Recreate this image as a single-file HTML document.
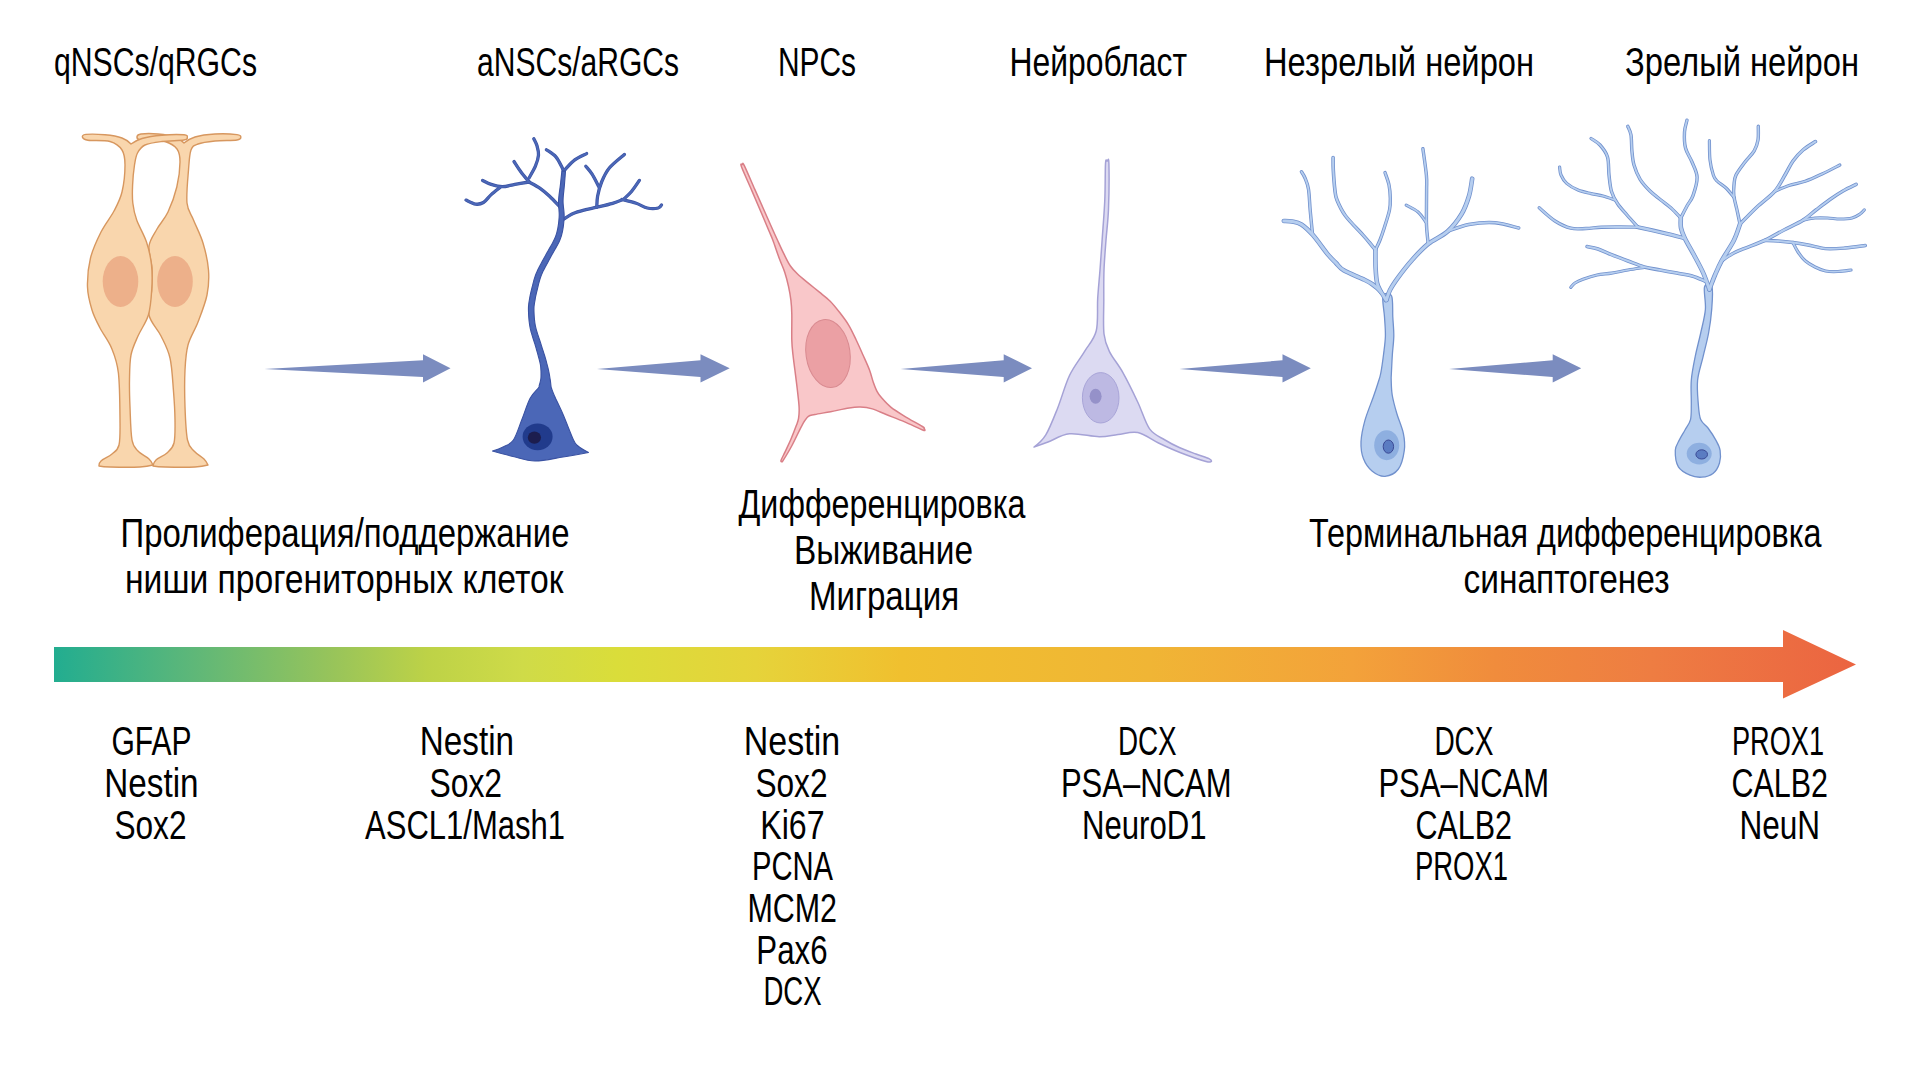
<!DOCTYPE html>
<html><head><meta charset="utf-8"><title>Neurogenesis</title><style>html,body{margin:0;padding:0;background:#fff;overflow:hidden}svg{display:block}</style></head><body>
<svg width="1907" height="1079" viewBox="0 0 1907 1079">
<defs><linearGradient id="g" gradientUnits="userSpaceOnUse" x1="54" y1="0" x2="1856" y2="0">
<stop offset="0" stop-color="#22ad90"/>
<stop offset="0.076" stop-color="#5db779"/>
<stop offset="0.155" stop-color="#98c45a"/>
<stop offset="0.207" stop-color="#bdd247"/>
<stop offset="0.26" stop-color="#cfdb48"/>
<stop offset="0.312" stop-color="#dadd3a"/>
<stop offset="0.39" stop-color="#e6d33a"/>
<stop offset="0.47" stop-color="#f0c02f"/>
<stop offset="0.608" stop-color="#f0b535"/>
<stop offset="0.72" stop-color="#f3a23a"/>
<stop offset="0.80" stop-color="#f08c3c"/>
<stop offset="0.886" stop-color="#ee7d42"/>
<stop offset="1" stop-color="#eb6441"/>
</linearGradient></defs>
<path fill="url(#g)" d="M54,647 L1783,647 L1783,630 L1856,664.5 L1783,698.5 L1783,682 L54,682 Z"/>
<path fill="#7b8cbf" d="M264.4,369 L423.0,360.3 L423.0,354.3 L450.5,368.2 L423.0,382.4 L423.0,377 Z"/>
<path fill="#7b8cbf" d="M597.0,369 L700.5,360.3 L700.5,354.3 L729.7,368.2 L700.5,382.4 L700.5,377 Z"/>
<path fill="#7b8cbf" d="M900.6,369 L1003.7,360.3 L1003.7,354.3 L1032.0,368.2 L1003.7,382.4 L1003.7,377 Z"/>
<path fill="#7b8cbf" d="M1179.4,369 L1282.5,360.3 L1282.5,354.3 L1310.8,368.2 L1282.5,382.4 L1282.5,377 Z"/>
<path fill="#7b8cbf" d="M1449.0,369 L1552.7,360.3 L1552.7,354.3 L1581.2,368.2 L1552.7,382.4 L1552.7,377 Z"/>
<path fill="#f9d6ad" stroke="#d7975f" stroke-width="1.4" stroke-linejoin="round" d="M137.00,136.60 C137.17,135.60 137.50,134.43 141.00,134.00 C144.50,133.57 152.33,133.50 158.00,134.00 C163.67,134.50 170.67,135.50 175.00,137.00 C179.33,138.50 184.00,143.00 184.00,143.00 C184.00,143.00 189.83,138.50 195.00,137.00 C200.17,135.50 208.00,134.40 215.00,134.00 C222.00,133.60 232.70,134.07 237.00,134.60 C241.30,135.13 240.80,136.30 240.80,137.20 C240.80,138.10 241.30,139.37 237.00,140.00 C232.70,140.63 221.50,140.33 215.00,141.00 C208.50,141.67 202.00,142.50 198.00,144.00 C194.00,145.50 192.58,145.67 191.00,150.00 C189.42,154.33 189.17,161.17 188.50,170.00 C187.83,178.83 186.17,194.67 187.00,203.00 C187.83,211.33 190.83,213.33 193.50,220.00 C196.17,226.67 200.50,234.67 203.00,243.00 C205.50,251.33 207.83,261.33 208.50,270.00 C209.17,278.67 208.75,286.33 207.00,295.00 C205.25,303.67 201.17,313.67 198.00,322.00 C194.83,330.33 190.17,337.00 188.00,345.00 C185.83,353.00 185.50,359.67 185.00,370.00 C184.50,380.33 184.58,395.33 185.00,407.00 C185.42,418.67 186.00,432.67 187.50,440.00 C189.00,447.33 191.25,447.83 194.00,451.00 C196.75,454.17 201.67,456.67 204.00,459.00 C206.33,461.33 208.00,465.00 208.00,465.00 C208.00,465.00 202.17,466.67 195.00,467.00 C187.83,467.33 172.00,467.17 165.00,467.00 C158.00,466.83 153.00,466.00 153.00,466.00 C153.00,466.00 153.67,462.17 156.00,460.00 C158.33,457.83 164.00,455.83 167.00,453.00 C170.00,450.17 172.67,448.50 174.00,443.00 C175.33,437.50 175.10,428.83 175.00,420.00 C174.90,411.17 174.23,400.33 173.40,390.00 C172.57,379.67 172.07,367.00 170.00,358.00 C167.93,349.00 164.50,343.17 161.00,336.00 C157.50,328.83 150.55,322.67 149.00,315.00 C147.45,307.33 151.20,297.83 151.70,290.00 C152.20,282.17 152.45,275.33 152.00,268.00 C151.55,260.67 148.17,252.50 149.00,246.00 C149.83,239.50 153.83,234.67 157.00,229.00 C160.17,223.33 164.70,219.00 168.00,212.00 C171.30,205.00 174.80,195.33 176.80,187.00 C178.80,178.67 179.97,168.33 180.00,162.00 C180.03,155.67 179.50,152.42 177.00,149.00 C174.50,145.58 169.50,142.97 165.00,141.50 C160.50,140.03 154.17,140.45 150.00,140.20 C145.83,139.95 142.17,140.60 140.00,140.00 C137.83,139.40 136.83,137.60 137.00,136.60Z"/>
<ellipse cx="175.0" cy="281.5" rx="17.8" ry="25.5" fill="#edb08a"/>
<path fill="#f9d6ad" stroke="#d7975f" stroke-width="1.4" stroke-linejoin="round" d="M82.50,137.20 C82.17,136.23 82.25,134.80 86.00,134.40 C89.75,134.00 99.00,134.20 105.00,134.80 C111.00,135.40 117.67,136.47 122.00,138.00 C126.33,139.53 131.00,144.00 131.00,144.00 C131.00,144.00 136.83,139.97 142.00,138.50 C147.17,137.03 155.00,135.82 162.00,135.20 C169.00,134.58 179.78,134.43 184.00,134.80 C188.22,135.17 187.30,136.53 187.30,137.40 C187.30,138.27 188.22,139.32 184.00,140.00 C179.78,140.68 168.50,140.67 162.00,141.50 C155.50,142.33 149.08,143.08 145.00,145.00 C140.92,146.92 139.25,149.67 137.50,153.00 C135.75,156.33 135.32,159.67 134.50,165.00 C133.68,170.33 132.88,178.67 132.60,185.00 C132.32,191.33 132.12,197.17 132.80,203.00 C133.48,208.83 134.42,213.50 136.70,220.00 C138.98,226.50 144.03,234.50 146.50,242.00 C148.97,249.50 150.63,257.00 151.50,265.00 C152.37,273.00 152.22,281.67 151.70,290.00 C151.18,298.33 150.68,307.33 148.40,315.00 C146.12,322.67 140.90,329.33 138.00,336.00 C135.10,342.67 132.42,347.67 131.00,355.00 C129.58,362.33 129.67,371.33 129.50,380.00 C129.33,388.67 129.58,397.00 130.00,407.00 C130.42,417.00 130.67,432.67 132.00,440.00 C133.33,447.33 135.17,447.83 138.00,451.00 C140.83,454.17 146.50,456.67 149.00,459.00 C151.50,461.33 153.00,465.00 153.00,465.00 C153.00,465.00 147.17,466.67 140.00,467.00 C132.83,467.33 116.83,467.17 110.00,467.00 C103.17,466.83 99.00,466.00 99.00,466.00 C99.00,466.00 98.83,463.00 101.00,461.00 C103.17,459.00 109.00,456.67 112.00,454.00 C115.00,451.33 117.67,450.67 119.00,445.00 C120.33,439.33 120.10,432.00 120.00,420.00 C119.90,408.00 119.78,384.93 118.40,373.00 C117.02,361.07 114.77,355.90 111.70,348.40 C108.63,340.90 103.28,334.40 100.00,328.00 C96.72,321.60 94.08,316.83 92.00,310.00 C89.92,303.17 87.75,295.67 87.50,287.00 C87.25,278.33 88.25,267.17 90.50,258.00 C92.75,248.83 97.08,239.83 101.00,232.00 C104.92,224.17 110.50,217.67 114.00,211.00 C117.50,204.33 120.17,199.67 122.00,192.00 C123.83,184.33 125.00,172.00 125.00,165.00 C125.00,158.00 124.50,153.92 122.00,150.00 C119.50,146.08 115.67,143.13 110.00,141.50 C104.33,139.87 92.58,140.92 88.00,140.20 C83.42,139.48 82.83,138.17 82.50,137.20Z"/>
<ellipse cx="120.5" cy="281.5" rx="17.8" ry="25.5" fill="#edb08a"/>
<path fill="none" stroke="#3a52a2" stroke-width="3.3" stroke-linecap="round" stroke-linejoin="round" d="M563.70,172.00 C563.45,171.30 563.50,170.33 562.20,167.80 C560.90,165.27 558.53,159.82 555.90,156.80 C553.27,153.78 547.98,150.88 546.40,149.70"/>
<path fill="none" stroke="#3a52a2" stroke-width="3.3" stroke-linecap="round" stroke-linejoin="round" d="M563.70,172.00 C563.97,171.57 563.45,171.42 565.30,169.40 C567.15,167.38 571.25,162.53 574.80,159.90 C578.35,157.27 584.63,154.65 586.60,153.60"/>
<path fill="none" stroke="#3a52a2" stroke-width="3.3" stroke-linecap="round" stroke-linejoin="round" d="M560.00,207.00 C558.27,205.20 552.92,199.32 549.60,196.20 C546.28,193.08 543.52,190.67 540.10,188.30 C536.68,185.93 530.93,183.05 529.10,182.00"/>
<path fill="none" stroke="#3a52a2" stroke-width="3.3" stroke-linecap="round" stroke-linejoin="round" d="M529.10,182.00 C526.73,182.40 519.37,183.62 514.90,184.40 C510.43,185.18 506.25,186.70 502.30,186.70 C498.35,186.70 494.48,185.45 491.20,184.40 C487.92,183.35 484.03,181.07 482.60,180.40"/>
<path fill="none" stroke="#3a52a2" stroke-width="3.3" stroke-linecap="round" stroke-linejoin="round" d="M500.00,187.50 C498.53,188.68 493.97,192.10 491.20,194.60 C488.43,197.10 486.02,200.92 483.40,202.50 C480.78,204.08 478.40,204.50 475.50,204.10 C472.60,203.70 467.58,200.77 466.00,200.10"/>
<path fill="none" stroke="#3a52a2" stroke-width="3.3" stroke-linecap="round" stroke-linejoin="round" d="M529.10,182.00 C527.75,180.33 523.52,175.42 521.00,172.00 C518.48,168.58 515.17,163.25 514.00,161.50"/>
<path fill="none" stroke="#3a52a2" stroke-width="3.3" stroke-linecap="round" stroke-linejoin="round" d="M529.00,178.00 C530.07,176.03 533.82,170.00 535.40,166.20 C536.98,162.40 538.23,158.60 538.50,155.20 C538.77,151.80 537.78,148.55 537.00,145.80 C536.22,143.05 534.33,139.88 533.80,138.70"/>
<path fill="none" stroke="#3a52a2" stroke-width="3.3" stroke-linecap="round" stroke-linejoin="round" d="M562.50,220.00 C564.28,218.92 569.32,215.23 573.20,213.50 C577.08,211.77 581.87,210.65 585.80,209.60 C589.73,208.55 592.33,208.25 596.80,207.20 C601.27,206.15 608.13,204.62 612.60,203.30 C617.07,201.98 621.77,199.97 623.60,199.30"/>
<path fill="none" stroke="#3a52a2" stroke-width="3.3" stroke-linecap="round" stroke-linejoin="round" d="M623.60,199.30 C624.92,198.00 628.87,194.65 631.50,191.50 C634.13,188.35 638.08,182.25 639.40,180.40"/>
<path fill="none" stroke="#3a52a2" stroke-width="3.3" stroke-linecap="round" stroke-linejoin="round" d="M622.00,199.50 C624.37,200.13 631.98,201.88 636.20,203.30 C640.42,204.72 643.62,207.22 647.30,208.00 C650.98,208.78 655.93,208.52 658.30,208.00 C660.67,207.48 660.97,205.42 661.50,204.90"/>
<path fill="none" stroke="#3a52a2" stroke-width="3.3" stroke-linecap="round" stroke-linejoin="round" d="M596.80,207.20 C596.93,205.37 596.80,200.40 597.60,196.20 C598.40,192.00 599.62,186.73 601.60,182.00 C603.58,177.27 605.70,172.40 609.50,167.80 C613.30,163.20 621.92,156.63 624.40,154.40"/>
<path fill="none" stroke="#3a52a2" stroke-width="3.3" stroke-linecap="round" stroke-linejoin="round" d="M599.00,187.00 C597.85,184.85 594.30,177.57 592.10,174.10 C589.90,170.63 586.85,167.52 585.80,166.20"/>
<path fill="none" stroke="#4b67b7" stroke-width="2.0" stroke-linecap="round" stroke-linejoin="round" d="M563.70,172.00 C563.45,171.30 563.50,170.33 562.20,167.80 C560.90,165.27 558.53,159.82 555.90,156.80 C553.27,153.78 547.98,150.88 546.40,149.70"/>
<path fill="none" stroke="#4b67b7" stroke-width="2.0" stroke-linecap="round" stroke-linejoin="round" d="M563.70,172.00 C563.97,171.57 563.45,171.42 565.30,169.40 C567.15,167.38 571.25,162.53 574.80,159.90 C578.35,157.27 584.63,154.65 586.60,153.60"/>
<path fill="none" stroke="#4b67b7" stroke-width="2.0" stroke-linecap="round" stroke-linejoin="round" d="M560.00,207.00 C558.27,205.20 552.92,199.32 549.60,196.20 C546.28,193.08 543.52,190.67 540.10,188.30 C536.68,185.93 530.93,183.05 529.10,182.00"/>
<path fill="none" stroke="#4b67b7" stroke-width="2.0" stroke-linecap="round" stroke-linejoin="round" d="M529.10,182.00 C526.73,182.40 519.37,183.62 514.90,184.40 C510.43,185.18 506.25,186.70 502.30,186.70 C498.35,186.70 494.48,185.45 491.20,184.40 C487.92,183.35 484.03,181.07 482.60,180.40"/>
<path fill="none" stroke="#4b67b7" stroke-width="2.0" stroke-linecap="round" stroke-linejoin="round" d="M500.00,187.50 C498.53,188.68 493.97,192.10 491.20,194.60 C488.43,197.10 486.02,200.92 483.40,202.50 C480.78,204.08 478.40,204.50 475.50,204.10 C472.60,203.70 467.58,200.77 466.00,200.10"/>
<path fill="none" stroke="#4b67b7" stroke-width="2.0" stroke-linecap="round" stroke-linejoin="round" d="M529.10,182.00 C527.75,180.33 523.52,175.42 521.00,172.00 C518.48,168.58 515.17,163.25 514.00,161.50"/>
<path fill="none" stroke="#4b67b7" stroke-width="2.0" stroke-linecap="round" stroke-linejoin="round" d="M529.00,178.00 C530.07,176.03 533.82,170.00 535.40,166.20 C536.98,162.40 538.23,158.60 538.50,155.20 C538.77,151.80 537.78,148.55 537.00,145.80 C536.22,143.05 534.33,139.88 533.80,138.70"/>
<path fill="none" stroke="#4b67b7" stroke-width="2.0" stroke-linecap="round" stroke-linejoin="round" d="M562.50,220.00 C564.28,218.92 569.32,215.23 573.20,213.50 C577.08,211.77 581.87,210.65 585.80,209.60 C589.73,208.55 592.33,208.25 596.80,207.20 C601.27,206.15 608.13,204.62 612.60,203.30 C617.07,201.98 621.77,199.97 623.60,199.30"/>
<path fill="none" stroke="#4b67b7" stroke-width="2.0" stroke-linecap="round" stroke-linejoin="round" d="M623.60,199.30 C624.92,198.00 628.87,194.65 631.50,191.50 C634.13,188.35 638.08,182.25 639.40,180.40"/>
<path fill="none" stroke="#4b67b7" stroke-width="2.0" stroke-linecap="round" stroke-linejoin="round" d="M622.00,199.50 C624.37,200.13 631.98,201.88 636.20,203.30 C640.42,204.72 643.62,207.22 647.30,208.00 C650.98,208.78 655.93,208.52 658.30,208.00 C660.67,207.48 660.97,205.42 661.50,204.90"/>
<path fill="none" stroke="#4b67b7" stroke-width="2.0" stroke-linecap="round" stroke-linejoin="round" d="M596.80,207.20 C596.93,205.37 596.80,200.40 597.60,196.20 C598.40,192.00 599.62,186.73 601.60,182.00 C603.58,177.27 605.70,172.40 609.50,167.80 C613.30,163.20 621.92,156.63 624.40,154.40"/>
<path fill="none" stroke="#4b67b7" stroke-width="2.0" stroke-linecap="round" stroke-linejoin="round" d="M599.00,187.00 C597.85,184.85 594.30,177.57 592.10,174.10 C589.90,170.63 586.85,167.52 585.80,166.20"/>
<path fill="#4b67b7" stroke="#3a52a2" stroke-width="1.1" stroke-linejoin="round" d="M561.91,170.83 C561.91,170.83 561.78,171.96 561.70,172.70 C561.61,173.45 561.52,174.37 561.42,175.32 C561.32,176.27 561.20,177.35 561.09,178.41 C560.98,179.46 560.86,180.60 560.75,181.66 C560.63,182.73 560.52,183.87 560.41,184.81 C560.30,185.75 560.21,186.45 560.10,187.30 C559.98,188.14 559.86,189.01 559.73,189.89 C559.61,190.76 559.48,191.66 559.36,192.56 C559.24,193.46 559.12,194.38 559.01,195.30 C558.91,196.22 558.80,197.16 558.73,198.10 C558.65,199.04 558.58,199.98 558.55,200.95 C558.52,201.91 558.53,202.90 558.55,203.87 C558.58,204.83 558.65,205.78 558.72,206.73 C558.79,207.67 558.88,208.61 558.95,209.54 C559.02,210.47 559.10,211.39 559.14,212.32 C559.19,213.24 559.23,214.15 559.22,215.07 C559.22,215.99 559.16,216.93 559.11,217.82 C559.05,218.71 558.97,219.52 558.88,220.39 C558.80,221.25 558.71,222.13 558.60,223.00 C558.49,223.88 558.38,224.76 558.24,225.64 C558.11,226.52 557.96,227.41 557.80,228.29 C557.63,229.17 557.44,230.06 557.23,230.93 C557.02,231.81 556.80,232.68 556.54,233.55 C556.29,234.41 555.99,235.32 555.70,236.12 C555.42,236.92 555.15,237.58 554.83,238.33 C554.51,239.08 554.15,239.83 553.77,240.60 C553.40,241.36 552.99,242.13 552.57,242.91 C552.15,243.68 551.71,244.47 551.27,245.25 C550.82,246.03 550.36,246.82 549.90,247.61 C549.44,248.40 548.97,249.20 548.51,249.99 C548.05,250.79 547.59,251.58 547.15,252.38 C546.71,253.18 546.27,254.00 545.85,254.77 C545.43,255.55 545.05,256.29 544.63,257.05 C544.22,257.81 543.80,258.57 543.38,259.34 C542.96,260.10 542.54,260.86 542.12,261.63 C541.70,262.39 541.27,263.15 540.86,263.92 C540.45,264.68 540.03,265.44 539.64,266.20 C539.24,266.96 538.85,267.72 538.47,268.47 C538.09,269.23 537.73,269.98 537.38,270.73 C537.04,271.48 536.75,272.11 536.40,272.98 C536.05,273.85 535.61,274.98 535.26,275.97 C534.91,276.96 534.60,277.96 534.30,278.93 C534.01,279.90 533.74,280.87 533.49,281.80 C533.24,282.74 533.01,283.66 532.79,284.53 C532.56,285.41 532.36,286.26 532.16,287.05 C531.96,287.85 531.81,288.43 531.59,289.30 C531.37,290.17 531.07,291.36 530.85,292.28 C530.63,293.19 530.45,293.99 530.28,294.80 C530.11,295.62 529.97,296.36 529.83,297.15 C529.69,297.95 529.56,298.78 529.43,299.57 C529.30,300.36 529.18,301.10 529.06,301.87 C528.94,302.64 528.81,303.37 528.72,304.20 C528.62,305.04 528.53,305.88 528.48,306.86 C528.44,307.83 528.44,309.12 528.45,310.06 C528.46,311.00 528.49,311.64 528.52,312.50 C528.55,313.36 528.59,314.28 528.64,315.23 C528.70,316.17 528.76,317.16 528.84,318.16 C528.92,319.16 529.02,320.19 529.13,321.23 C529.25,322.27 529.39,323.33 529.55,324.38 C529.71,325.44 529.91,326.56 530.10,327.55 C530.30,328.53 530.49,329.38 530.72,330.30 C530.95,331.23 531.20,332.16 531.47,333.10 C531.73,334.03 532.02,334.97 532.30,335.91 C532.59,336.84 532.89,337.78 533.19,338.71 C533.49,339.64 533.79,340.56 534.08,341.48 C534.37,342.39 534.66,343.30 534.94,344.19 C535.21,345.08 535.46,345.93 535.72,346.81 C535.97,347.70 536.21,348.61 536.46,349.51 C536.72,350.41 536.97,351.31 537.23,352.20 C537.48,353.10 537.73,353.99 537.98,354.87 C538.22,355.75 538.47,356.63 538.70,357.48 C538.93,358.34 539.16,359.19 539.36,360.01 C539.57,360.83 539.77,361.64 539.95,362.42 C540.12,363.20 540.29,363.80 540.42,364.69 C540.56,365.57 540.67,366.73 540.76,367.72 C540.85,368.70 540.90,369.66 540.95,370.58 C540.99,371.51 541.01,372.41 541.02,373.29 C541.03,374.17 541.01,375.02 541.00,375.85 C540.98,376.67 541.00,377.42 540.91,378.26 C540.82,379.11 540.63,380.03 540.45,380.91 C540.27,381.78 540.04,382.69 539.82,383.50 C539.61,384.32 539.36,385.09 539.14,385.80 C538.92,386.50 540.03,385.62 538.51,387.74 C536.98,389.86 532.80,393.12 530.00,398.50 C527.20,403.88 524.47,413.08 521.70,420.00 C518.93,426.92 516.52,435.50 513.40,440.00 C510.28,444.50 506.48,445.17 503.00,447.00 C499.52,448.83 492.50,451.00 492.50,451.00 C492.50,451.00 505.92,454.83 513.00,456.50 C520.08,458.17 526.67,460.92 535.00,461.00 C543.33,461.08 554.08,458.42 563.00,457.00 C571.92,455.58 588.50,452.50 588.50,452.50 C588.50,452.50 580.50,448.08 578.00,446.00 C575.50,443.92 575.93,445.13 573.50,440.00 C571.07,434.87 566.57,422.53 563.40,415.20 C560.23,407.87 556.48,400.49 554.50,396.00 C552.52,391.51 552.06,389.79 551.49,388.26 C550.93,386.73 551.22,387.47 551.10,386.80 C550.99,386.13 550.91,385.19 550.80,384.25 C550.69,383.30 550.60,382.21 550.44,381.12 C550.29,380.04 550.05,378.73 549.89,377.74 C549.73,376.75 549.62,376.07 549.47,375.19 C549.32,374.32 549.16,373.41 548.98,372.47 C548.79,371.53 548.60,370.57 548.38,369.58 C548.16,368.58 547.92,367.57 547.65,366.52 C547.39,365.48 547.03,364.26 546.78,363.31 C546.53,362.37 546.38,361.70 546.15,360.87 C545.93,360.04 545.69,359.20 545.44,358.35 C545.19,357.49 544.92,356.62 544.65,355.75 C544.38,354.88 544.10,354.00 543.82,353.12 C543.54,352.24 543.25,351.35 542.97,350.46 C542.68,349.58 542.39,348.69 542.11,347.81 C541.83,346.93 541.57,346.08 541.28,345.19 C541.00,344.29 540.72,343.37 540.43,342.45 C540.13,341.54 539.82,340.61 539.51,339.69 C539.20,338.77 538.88,337.85 538.58,336.94 C538.27,336.02 537.96,335.11 537.67,334.20 C537.38,333.30 537.09,332.41 536.83,331.53 C536.56,330.65 536.31,329.78 536.09,328.93 C535.87,328.09 535.68,327.35 535.50,326.45 C535.31,325.56 535.13,324.53 534.98,323.56 C534.84,322.58 534.71,321.59 534.60,320.62 C534.49,319.65 534.40,318.67 534.32,317.72 C534.24,316.77 534.19,315.82 534.13,314.92 C534.08,314.02 534.05,313.14 534.02,312.31 C533.99,311.48 533.95,310.80 533.95,309.94 C533.95,309.08 533.95,308.00 534.00,307.16 C534.04,306.32 534.13,305.65 534.22,304.92 C534.31,304.19 534.44,303.55 534.56,302.80 C534.68,302.05 534.84,301.21 534.97,300.43 C535.10,299.65 535.21,298.88 535.35,298.13 C535.48,297.38 535.61,296.71 535.77,295.95 C535.92,295.19 536.09,294.44 536.30,293.57 C536.51,292.69 536.80,291.57 537.01,290.70 C537.22,289.83 537.38,289.17 537.57,288.36 C537.77,287.55 537.96,286.70 538.16,285.84 C538.37,284.98 538.58,284.09 538.81,283.20 C539.04,282.30 539.28,281.39 539.55,280.48 C539.81,279.57 540.09,278.64 540.40,277.73 C540.71,276.82 541.09,275.82 541.40,275.02 C541.71,274.23 541.97,273.67 542.28,272.97 C542.60,272.28 542.94,271.57 543.29,270.86 C543.64,270.14 544.01,269.42 544.39,268.68 C544.77,267.95 545.16,267.21 545.57,266.46 C545.97,265.71 546.38,264.96 546.79,264.20 C547.21,263.44 547.63,262.67 548.05,261.90 C548.47,261.13 548.89,260.35 549.31,259.57 C549.73,258.79 550.14,257.99 550.55,257.23 C550.96,256.46 551.35,255.73 551.77,254.97 C552.20,254.20 552.65,253.43 553.10,252.65 C553.55,251.87 554.02,251.08 554.48,250.28 C554.94,249.49 555.41,248.68 555.87,247.88 C556.33,247.07 556.79,246.25 557.23,245.43 C557.68,244.61 558.11,243.78 558.52,242.95 C558.93,242.12 559.33,241.28 559.69,240.43 C560.06,239.59 560.38,238.79 560.70,237.88 C561.02,236.97 561.33,235.95 561.60,234.99 C561.87,234.03 562.10,233.06 562.32,232.09 C562.53,231.13 562.72,230.17 562.88,229.21 C563.05,228.26 563.19,227.31 563.32,226.36 C563.45,225.42 563.56,224.49 563.65,223.56 C563.75,222.64 563.83,221.73 563.90,220.83 C563.98,219.93 564.05,219.15 564.09,218.18 C564.13,217.21 564.16,216.04 564.14,215.01 C564.12,213.97 564.04,212.97 563.97,211.98 C563.89,210.99 563.78,210.03 563.68,209.08 C563.58,208.14 563.46,207.22 563.37,206.31 C563.28,205.40 563.19,204.51 563.13,203.64 C563.08,202.76 563.05,201.93 563.05,201.05 C563.05,200.18 563.09,199.29 563.13,198.40 C563.18,197.52 563.25,196.63 563.32,195.74 C563.40,194.85 563.49,193.95 563.58,193.07 C563.67,192.18 563.77,191.29 563.87,190.41 C563.96,189.53 564.06,188.65 564.15,187.78 C564.24,186.91 564.31,186.15 564.39,185.19 C564.47,184.23 564.56,183.10 564.65,182.03 C564.74,180.96 564.83,179.82 564.92,178.76 C565.00,177.70 565.09,176.62 565.16,175.67 C565.23,174.71 565.30,173.79 565.36,173.04 C565.42,172.29 565.49,171.17 565.49,171.17 C565.49,171.17 561.91,170.83 561.91,170.83Z"/>
<ellipse cx="537.6" cy="436.8" rx="15" ry="13.4" fill="#213b8c"/>
<ellipse cx="534.4" cy="437.6" rx="6.6" ry="6.2" fill="#1c1d4e"/>
<path fill="#f9c7c9" stroke="#d97f87" stroke-width="1.5" stroke-linejoin="round" d="M742.60,164.60 C743.07,164.40 742.17,161.27 744.20,165.40 C746.23,169.53 751.42,181.75 754.80,189.40 C758.18,197.05 761.55,204.67 764.50,211.30 C767.45,217.93 770.35,224.42 772.50,229.20 C774.65,233.98 775.50,235.88 777.40,240.00 C779.30,244.12 781.73,249.57 783.90,253.90 C786.07,258.23 788.08,262.60 790.40,266.00 C792.72,269.40 794.72,271.37 797.80,274.30 C800.88,277.23 805.35,280.67 808.90,283.60 C812.45,286.53 815.55,288.97 819.10,291.90 C822.65,294.83 826.80,297.80 830.20,301.20 C833.60,304.60 836.40,308.28 839.50,312.30 C842.60,316.32 846.02,320.68 848.80,325.30 C851.58,329.92 853.83,335.05 856.20,340.00 C858.57,344.95 860.78,350.00 863.00,355.00 C865.22,360.00 867.80,365.50 869.50,370.00 C871.20,374.50 871.95,378.45 873.20,382.00 C874.45,385.55 875.60,388.67 877.00,391.30 C878.40,393.93 879.30,395.17 881.60,397.80 C883.90,400.43 886.95,404.02 890.80,407.10 C894.65,410.18 899.43,413.07 904.70,416.30 C909.97,419.53 919.18,424.47 922.40,426.50 C925.62,428.53 924.00,428.50 924.00,428.50 C924.00,428.50 926.52,431.40 923.30,430.30 C920.08,429.20 910.88,424.53 904.70,421.90 C898.52,419.27 891.60,416.67 886.20,414.50 C880.80,412.33 876.62,410.13 872.30,408.90 C867.98,407.67 864.17,407.25 860.30,407.10 C856.43,406.95 854.05,407.23 849.10,408.00 C844.15,408.77 836.30,410.62 830.60,411.70 C824.90,412.78 818.60,413.73 814.90,414.50 C811.20,415.27 810.42,414.75 808.40,416.30 C806.38,417.85 805.58,418.85 802.80,423.80 C800.02,428.75 795.10,439.68 791.70,446.00 C788.30,452.32 782.40,461.70 782.40,461.70 C782.40,461.70 780.53,462.18 781.00,460.50 C781.47,458.82 783.57,455.10 785.20,451.60 C786.83,448.10 788.95,443.83 790.80,439.50 C792.65,435.17 795.00,429.15 796.30,425.60 C797.60,422.05 798.13,421.28 798.60,418.20 C799.07,415.12 799.33,412.05 799.10,407.10 C798.87,402.15 797.90,394.68 797.20,388.50 C796.50,382.32 795.60,375.58 794.90,370.00 C794.20,364.42 793.52,360.00 793.00,355.00 C792.48,350.00 792.00,346.83 791.80,340.00 C791.60,333.17 791.95,320.63 791.80,314.00 C791.65,307.37 791.45,304.82 790.90,300.20 C790.35,295.58 789.52,290.93 788.50,286.30 C787.48,281.67 786.33,277.03 784.80,272.40 C783.27,267.77 781.30,263.90 779.30,258.50 C777.30,253.10 774.53,244.62 772.80,240.00 C771.07,235.38 770.82,235.35 768.90,230.80 C766.98,226.25 764.15,219.40 761.30,212.70 C758.45,206.00 755.12,198.28 751.80,190.60 C748.48,182.92 742.93,170.93 741.40,166.60 C739.87,162.27 742.13,164.80 742.60,164.60Z"/>
<ellipse cx="828" cy="353.5" rx="22" ry="34.2" transform="rotate(-8 828 353.5)" fill="#eba0a4" stroke="#d98a90" stroke-width="1"/>
<path fill="#dcdaf2" stroke="#a5a2d6" stroke-width="1.5" stroke-linejoin="round" d="M1107.20,161.30 C1107.77,161.30 1108.68,155.55 1108.90,163.50 C1109.12,171.45 1108.98,196.25 1108.50,209.00 C1108.02,221.75 1106.75,229.83 1106.00,240.00 C1105.25,250.17 1104.37,260.00 1104.00,270.00 C1103.63,280.00 1103.80,289.33 1103.80,300.00 C1103.80,310.67 1103.03,325.37 1104.00,334.00 C1104.97,342.63 1106.45,345.37 1109.60,351.80 C1112.75,358.23 1118.20,364.20 1122.90,372.60 C1127.60,381.00 1133.35,392.82 1137.80,402.20 C1142.25,411.58 1145.07,422.60 1149.60,428.90 C1154.13,435.20 1160.05,436.90 1165.00,440.00 C1169.95,443.10 1174.13,445.17 1179.30,447.50 C1184.47,449.83 1191.05,452.15 1196.00,454.00 C1200.95,455.85 1206.42,457.40 1209.00,458.60 C1211.58,459.80 1211.50,461.20 1211.50,461.20 C1211.50,461.20 1211.25,462.95 1206.00,461.50 C1200.75,460.05 1187.92,455.58 1180.00,452.50 C1172.08,449.42 1165.53,446.33 1158.50,443.00 C1151.47,439.67 1144.55,433.92 1137.80,432.50 C1131.05,431.08 1124.43,433.78 1118.00,434.50 C1111.57,435.22 1107.28,436.92 1099.20,436.80 C1091.12,436.68 1078.03,432.93 1069.50,433.80 C1060.97,434.67 1053.92,439.80 1048.00,442.00 C1042.08,444.20 1034.00,447.00 1034.00,447.00 C1034.00,447.00 1041.87,441.37 1045.80,434.90 C1049.73,428.43 1053.65,418.10 1057.60,408.20 C1061.55,398.30 1065.05,384.90 1069.50,375.50 C1073.95,366.10 1079.85,359.22 1084.30,351.80 C1088.75,344.38 1093.97,339.90 1096.20,331.00 C1098.43,322.10 1097.07,308.57 1097.70,298.40 C1098.33,288.23 1099.25,279.90 1100.00,270.00 C1100.75,260.10 1101.40,250.67 1102.20,239.00 C1103.00,227.33 1104.25,212.58 1104.80,200.00 C1105.35,187.42 1105.10,169.95 1105.50,163.50 C1105.90,157.05 1106.63,161.30 1107.20,161.30Z"/>
<ellipse cx="1100.7" cy="397.8" rx="18.3" ry="25.2" fill="#bdb9e3" stroke="#a9a5d8" stroke-width="1"/>
<ellipse cx="1095.6" cy="396.3" rx="6" ry="7.5" fill="#9591c9"/>
<path fill="#b6ceef" stroke="#7191cd" stroke-width="1.3" d="M1383.00,296.00 C1381.82,299.50 1384.10,310.33 1384.50,317.00 C1384.90,323.67 1385.55,329.83 1385.40,336.00 C1385.25,342.17 1384.37,347.83 1383.60,354.00 C1382.83,360.17 1381.73,368.17 1380.80,373.00 C1379.87,377.83 1379.23,379.03 1378.00,383.00 C1376.77,386.97 1375.57,390.60 1373.40,396.80 C1371.23,403.00 1367.07,412.68 1365.00,420.20 C1362.93,427.72 1361.27,435.50 1361.00,441.90 C1360.73,448.30 1361.57,453.75 1363.40,458.60 C1365.23,463.45 1368.40,468.05 1372.00,471.00 C1375.60,473.95 1380.60,476.63 1385.00,476.30 C1389.40,475.97 1395.18,473.33 1398.40,469.00 C1401.62,464.67 1403.47,456.20 1404.30,450.30 C1405.13,444.40 1404.65,439.73 1403.40,433.60 C1402.15,427.47 1398.67,419.93 1396.80,413.50 C1394.93,407.07 1393.13,400.58 1392.20,395.00 C1391.27,389.42 1391.33,383.67 1391.20,380.00 C1391.07,376.33 1391.20,377.33 1391.40,373.00 C1391.60,368.67 1392.00,360.17 1392.40,354.00 C1392.80,347.83 1393.73,342.17 1393.80,336.00 C1393.87,329.83 1393.17,323.67 1392.80,317.00 C1392.43,310.33 1393.23,299.50 1391.60,296.00 C1389.97,292.50 1384.18,292.50 1383.00,296.00Z"/>
<path fill="none" stroke="#7191cd" stroke-width="4.6" stroke-linecap="round" stroke-linejoin="round" d="M1385.90,300.00 C1385.02,298.57 1382.92,294.07 1380.60,291.40 C1378.28,288.73 1374.93,286.05 1372.00,284.00 C1369.07,281.95 1367.72,281.38 1363.00,279.10 C1358.28,276.82 1348.20,272.98 1343.70,270.30 C1339.20,267.62 1338.65,265.65 1336.00,263.00 C1333.35,260.35 1331.65,259.05 1327.80,254.40 C1323.95,249.75 1317.30,240.08 1312.90,235.10 C1308.50,230.12 1304.88,226.77 1301.40,224.50 C1297.92,222.23 1294.93,222.08 1292.00,221.50 C1289.07,220.92 1285.17,221.08 1283.80,221.00"/>
<path fill="none" stroke="#7191cd" stroke-width="3.4" stroke-linecap="round" stroke-linejoin="round" d="M1312.50,234.00 C1312.12,230.07 1310.87,217.85 1310.20,210.40 C1309.53,202.95 1309.37,194.70 1308.50,189.30 C1307.63,183.90 1306.18,180.93 1305.00,178.00 C1303.82,175.07 1302.00,172.75 1301.40,171.70"/>
<path fill="none" stroke="#7191cd" stroke-width="4.6" stroke-linecap="round" stroke-linejoin="round" d="M1380.60,291.40 C1380.02,290.00 1377.93,286.90 1377.10,283.00 C1376.27,279.10 1375.88,273.50 1375.60,268.00 C1375.32,262.50 1375.43,253.00 1375.40,250.00"/>
<path fill="none" stroke="#7191cd" stroke-width="3.6" stroke-linecap="round" stroke-linejoin="round" d="M1375.40,250.00 C1374.33,248.67 1371.07,244.48 1369.00,242.00 C1366.93,239.52 1366.93,239.48 1363.00,235.10 C1359.07,230.72 1349.73,221.55 1345.40,215.70 C1341.07,209.85 1338.75,204.28 1337.00,200.00 C1335.25,195.72 1335.52,195.00 1334.90,190.00 C1334.28,185.00 1333.60,175.40 1333.30,170.00 C1333.00,164.60 1333.13,159.67 1333.10,157.60"/>
<path fill="none" stroke="#7191cd" stroke-width="3.4" stroke-linecap="round" stroke-linejoin="round" d="M1375.40,250.00 C1376.17,248.33 1378.53,243.67 1380.00,240.00 C1381.47,236.33 1382.62,233.00 1384.20,228.00 C1385.78,223.00 1388.48,215.00 1389.50,210.00 C1390.52,205.00 1390.38,202.17 1390.30,198.00 C1390.22,193.83 1389.88,189.23 1389.00,185.00 C1388.12,180.77 1385.67,174.67 1385.00,172.60"/>
<path fill="none" stroke="#7191cd" stroke-width="4.6" stroke-linecap="round" stroke-linejoin="round" d="M1386.50,300.00 C1387.08,298.33 1388.05,293.78 1390.00,290.00 C1391.95,286.22 1394.48,282.35 1398.20,277.30 C1401.92,272.25 1407.30,265.27 1412.30,259.70 C1417.30,254.13 1422.33,248.60 1428.20,243.90 C1434.07,239.20 1441.93,236.48 1447.50,231.50 C1453.07,226.52 1458.02,219.92 1461.60,214.00 C1465.18,208.08 1467.23,201.88 1469.00,196.00 C1470.77,190.12 1471.67,181.58 1472.20,178.70"/>
<path fill="none" stroke="#7191cd" stroke-width="3.4" stroke-linecap="round" stroke-linejoin="round" d="M1447.50,231.50 C1451.03,230.33 1460.77,225.97 1468.70,224.50 C1476.63,223.03 1486.75,222.12 1495.10,222.70 C1503.45,223.28 1514.85,227.12 1518.80,228.00"/>
<path fill="none" stroke="#7191cd" stroke-width="3.4" stroke-linecap="round" stroke-linejoin="round" d="M1428.20,243.90 C1427.97,241.58 1427.10,234.12 1426.80,230.00 C1426.50,225.88 1426.43,225.87 1426.40,219.20 C1426.37,212.53 1426.60,197.33 1426.60,190.00 C1426.60,182.67 1427.02,182.07 1426.40,175.20 C1425.78,168.33 1423.48,153.20 1422.90,148.80"/>
<path fill="none" stroke="#7191cd" stroke-width="3.2" stroke-linecap="round" stroke-linejoin="round" d="M1426.40,222.70 C1425.00,220.92 1421.37,214.93 1418.00,212.00 C1414.63,209.07 1408.17,206.25 1406.20,205.10"/>
<path fill="none" stroke="#b6ceef" stroke-width="3.0" stroke-linecap="round" stroke-linejoin="round" d="M1385.90,300.00 C1385.02,298.57 1382.92,294.07 1380.60,291.40 C1378.28,288.73 1374.93,286.05 1372.00,284.00 C1369.07,281.95 1367.72,281.38 1363.00,279.10 C1358.28,276.82 1348.20,272.98 1343.70,270.30 C1339.20,267.62 1338.65,265.65 1336.00,263.00 C1333.35,260.35 1331.65,259.05 1327.80,254.40 C1323.95,249.75 1317.30,240.08 1312.90,235.10 C1308.50,230.12 1304.88,226.77 1301.40,224.50 C1297.92,222.23 1294.93,222.08 1292.00,221.50 C1289.07,220.92 1285.17,221.08 1283.80,221.00"/>
<path fill="none" stroke="#b6ceef" stroke-width="1.8" stroke-linecap="round" stroke-linejoin="round" d="M1312.50,234.00 C1312.12,230.07 1310.87,217.85 1310.20,210.40 C1309.53,202.95 1309.37,194.70 1308.50,189.30 C1307.63,183.90 1306.18,180.93 1305.00,178.00 C1303.82,175.07 1302.00,172.75 1301.40,171.70"/>
<path fill="none" stroke="#b6ceef" stroke-width="3.0" stroke-linecap="round" stroke-linejoin="round" d="M1380.60,291.40 C1380.02,290.00 1377.93,286.90 1377.10,283.00 C1376.27,279.10 1375.88,273.50 1375.60,268.00 C1375.32,262.50 1375.43,253.00 1375.40,250.00"/>
<path fill="none" stroke="#b6ceef" stroke-width="2.0" stroke-linecap="round" stroke-linejoin="round" d="M1375.40,250.00 C1374.33,248.67 1371.07,244.48 1369.00,242.00 C1366.93,239.52 1366.93,239.48 1363.00,235.10 C1359.07,230.72 1349.73,221.55 1345.40,215.70 C1341.07,209.85 1338.75,204.28 1337.00,200.00 C1335.25,195.72 1335.52,195.00 1334.90,190.00 C1334.28,185.00 1333.60,175.40 1333.30,170.00 C1333.00,164.60 1333.13,159.67 1333.10,157.60"/>
<path fill="none" stroke="#b6ceef" stroke-width="1.8" stroke-linecap="round" stroke-linejoin="round" d="M1375.40,250.00 C1376.17,248.33 1378.53,243.67 1380.00,240.00 C1381.47,236.33 1382.62,233.00 1384.20,228.00 C1385.78,223.00 1388.48,215.00 1389.50,210.00 C1390.52,205.00 1390.38,202.17 1390.30,198.00 C1390.22,193.83 1389.88,189.23 1389.00,185.00 C1388.12,180.77 1385.67,174.67 1385.00,172.60"/>
<path fill="none" stroke="#b6ceef" stroke-width="3.0" stroke-linecap="round" stroke-linejoin="round" d="M1386.50,300.00 C1387.08,298.33 1388.05,293.78 1390.00,290.00 C1391.95,286.22 1394.48,282.35 1398.20,277.30 C1401.92,272.25 1407.30,265.27 1412.30,259.70 C1417.30,254.13 1422.33,248.60 1428.20,243.90 C1434.07,239.20 1441.93,236.48 1447.50,231.50 C1453.07,226.52 1458.02,219.92 1461.60,214.00 C1465.18,208.08 1467.23,201.88 1469.00,196.00 C1470.77,190.12 1471.67,181.58 1472.20,178.70"/>
<path fill="none" stroke="#b6ceef" stroke-width="1.8" stroke-linecap="round" stroke-linejoin="round" d="M1447.50,231.50 C1451.03,230.33 1460.77,225.97 1468.70,224.50 C1476.63,223.03 1486.75,222.12 1495.10,222.70 C1503.45,223.28 1514.85,227.12 1518.80,228.00"/>
<path fill="none" stroke="#b6ceef" stroke-width="1.8" stroke-linecap="round" stroke-linejoin="round" d="M1428.20,243.90 C1427.97,241.58 1427.10,234.12 1426.80,230.00 C1426.50,225.88 1426.43,225.87 1426.40,219.20 C1426.37,212.53 1426.60,197.33 1426.60,190.00 C1426.60,182.67 1427.02,182.07 1426.40,175.20 C1425.78,168.33 1423.48,153.20 1422.90,148.80"/>
<path fill="none" stroke="#b6ceef" stroke-width="1.6" stroke-linecap="round" stroke-linejoin="round" d="M1426.40,222.70 C1425.00,220.92 1421.37,214.93 1418.00,212.00 C1414.63,209.07 1408.17,206.25 1406.20,205.10"/>
<ellipse cx="1386.7" cy="445.2" rx="12.5" ry="15.0" fill="#8eafe0"/>
<ellipse cx="1388.4" cy="446.6" rx="5.2" ry="6.6" fill="#5b7cc2" stroke="#3b4a95" stroke-width="1"/>
<path fill="#b6ceef" stroke="#7191cd" stroke-width="1.3" d="M1704.50,287.00 C1703.40,290.73 1706.03,301.73 1705.40,309.40 C1704.77,317.07 1702.40,325.13 1700.70,333.00 C1699.00,340.87 1696.77,348.73 1695.20,356.60 C1693.63,364.47 1691.95,372.32 1691.30,380.20 C1690.65,388.08 1691.43,397.33 1691.30,403.90 C1691.17,410.47 1691.55,415.25 1690.50,419.60 C1689.45,423.95 1686.85,426.62 1685.00,430.00 C1683.15,433.38 1681.02,436.52 1679.40,439.90 C1677.78,443.28 1675.47,445.80 1675.30,450.30 C1675.13,454.80 1675.95,462.75 1678.40,466.90 C1680.85,471.05 1686.12,473.48 1690.00,475.20 C1693.88,476.92 1697.87,477.48 1701.70,477.20 C1705.53,476.92 1710.03,475.87 1713.00,473.50 C1715.97,471.13 1718.32,466.87 1719.50,463.00 C1720.68,459.13 1720.73,454.15 1720.10,450.30 C1719.47,446.45 1717.72,443.62 1715.70,439.90 C1713.68,436.18 1710.50,431.38 1708.00,428.00 C1705.50,424.62 1702.32,423.62 1700.70,419.60 C1699.08,415.58 1698.82,410.47 1698.30,403.90 C1697.78,397.33 1696.80,388.08 1697.60,380.20 C1698.40,372.32 1701.27,364.47 1703.10,356.60 C1704.93,348.73 1707.17,340.87 1708.60,333.00 C1710.03,325.13 1711.13,317.07 1711.70,309.40 C1712.27,301.73 1713.20,290.73 1712.00,287.00 C1710.80,283.27 1705.60,283.27 1704.50,287.00Z"/>
<path fill="none" stroke="#7191cd" stroke-width="4.6" stroke-linecap="round" stroke-linejoin="round" d="M1709.40,289.40 C1708.38,286.68 1705.87,278.83 1703.30,273.10 C1700.73,267.37 1697.07,260.78 1694.00,255.00 C1690.93,249.22 1687.07,242.90 1684.90,238.40 C1682.73,233.90 1681.68,231.40 1681.00,228.00 C1680.32,224.60 1680.83,219.67 1680.80,218.00"/>
<path fill="none" stroke="#7191cd" stroke-width="3.4" stroke-linecap="round" stroke-linejoin="round" d="M1680.80,218.00 C1681.83,216.00 1684.97,209.73 1687.00,206.00 C1689.03,202.27 1691.32,200.38 1693.00,195.60 C1694.68,190.82 1697.27,182.90 1697.10,177.30 C1696.93,171.70 1693.93,166.88 1692.00,162.00 C1690.07,157.12 1686.75,153.00 1685.50,148.00 C1684.25,143.00 1684.25,136.63 1684.50,132.00 C1684.75,127.37 1686.58,122.17 1687.00,120.20"/>
<path fill="none" stroke="#7191cd" stroke-width="3.4" stroke-linecap="round" stroke-linejoin="round" d="M1680.80,218.00 C1679.17,216.33 1674.38,211.05 1671.00,208.00 C1667.62,204.95 1664.00,202.53 1660.50,199.70 C1657.00,196.87 1653.40,194.40 1650.00,191.00 C1646.60,187.60 1642.77,183.63 1640.10,179.30 C1637.43,174.97 1635.37,169.75 1634.00,165.00 C1632.63,160.25 1632.40,155.80 1631.90,150.80 C1631.40,145.80 1631.68,139.08 1631.00,135.00 C1630.32,130.92 1628.33,127.75 1627.80,126.30"/>
<path fill="none" stroke="#7191cd" stroke-width="4.0" stroke-linecap="round" stroke-linejoin="round" d="M1684.90,238.40 C1682.08,237.67 1673.43,235.35 1668.00,234.00 C1662.57,232.65 1657.30,231.43 1652.30,230.30 C1647.30,229.17 1640.38,227.72 1638.00,227.20"/>
<path fill="none" stroke="#7191cd" stroke-width="3.4" stroke-linecap="round" stroke-linejoin="round" d="M1638.00,227.20 C1636.17,225.17 1630.40,218.90 1627.00,215.00 C1623.60,211.10 1620.18,207.72 1617.60,203.80 C1615.02,199.88 1612.93,196.30 1611.50,191.50 C1610.07,186.70 1609.67,180.77 1609.00,175.00 C1608.33,169.23 1609.00,161.90 1607.50,156.90 C1606.00,151.90 1602.73,148.07 1600.00,145.00 C1597.27,141.93 1592.58,139.58 1591.10,138.50"/>
<path fill="none" stroke="#7191cd" stroke-width="3.2" stroke-linecap="round" stroke-linejoin="round" d="M1615.00,200.00 C1613.00,199.33 1606.98,197.07 1603.00,196.00 C1599.02,194.93 1595.27,194.60 1591.10,193.60 C1586.93,192.60 1582.07,191.70 1578.00,190.00 C1573.93,188.30 1569.53,185.90 1566.70,183.40 C1563.87,180.90 1562.18,177.72 1561.00,175.00 C1559.82,172.28 1559.83,168.42 1559.60,167.10"/>
<path fill="none" stroke="#7191cd" stroke-width="3.4" stroke-linecap="round" stroke-linejoin="round" d="M1638.00,227.20 C1635.00,227.17 1626.12,227.00 1620.00,227.00 C1613.88,227.00 1606.97,226.95 1601.30,227.20 C1595.63,227.45 1591.08,228.33 1586.00,228.50 C1580.92,228.67 1575.97,229.45 1570.80,228.20 C1565.63,226.95 1560.27,224.40 1555.00,221.00 C1549.73,217.60 1541.83,210.00 1539.20,207.80"/>
<path fill="none" stroke="#7191cd" stroke-width="3.6" stroke-linecap="round" stroke-linejoin="round" d="M1705.30,281.20 C1703.08,280.33 1696.75,277.35 1692.00,276.00 C1687.25,274.65 1682.13,274.10 1676.80,273.10 C1671.47,272.10 1665.45,271.03 1660.00,270.00 C1654.55,268.97 1649.43,268.40 1644.10,266.90 C1638.77,265.40 1633.43,263.03 1628.00,261.00 C1622.57,258.97 1616.50,256.70 1611.50,254.70 C1606.50,252.70 1602.07,250.35 1598.00,249.00 C1593.93,247.65 1588.92,247.00 1587.10,246.60"/>
<path fill="none" stroke="#7191cd" stroke-width="3.2" stroke-linecap="round" stroke-linejoin="round" d="M1644.10,267.50 C1641.42,267.92 1633.43,269.07 1628.00,270.00 C1622.57,270.93 1616.67,272.27 1611.50,273.10 C1606.33,273.93 1601.75,273.98 1597.00,275.00 C1592.25,276.02 1586.67,277.87 1583.00,279.20 C1579.33,280.53 1577.03,281.65 1575.00,283.00 C1572.97,284.35 1571.50,286.58 1570.80,287.30"/>
<path fill="none" stroke="#7191cd" stroke-width="4.6" stroke-linecap="round" stroke-linejoin="round" d="M1709.40,289.40 C1710.33,287.00 1712.97,279.77 1715.00,275.00 C1717.03,270.23 1718.47,266.55 1721.60,260.80 C1724.73,255.05 1730.73,246.62 1733.80,240.50 C1736.87,234.38 1738.97,226.83 1740.00,224.10"/>
<path fill="none" stroke="#7191cd" stroke-width="3.4" stroke-linecap="round" stroke-linejoin="round" d="M1740.00,224.10 C1739.50,221.75 1738.03,214.75 1737.00,210.00 C1735.97,205.25 1734.30,199.77 1733.80,195.60 C1733.30,191.43 1733.65,188.40 1734.00,185.00 C1734.35,181.60 1734.07,179.03 1735.90,175.20 C1737.73,171.37 1741.95,166.07 1745.00,162.00 C1748.05,157.93 1752.03,154.47 1754.20,150.80 C1756.37,147.13 1757.32,144.08 1758.00,140.00 C1758.68,135.92 1758.25,128.58 1758.30,126.30"/>
<path fill="none" stroke="#7191cd" stroke-width="3.2" stroke-linecap="round" stroke-linejoin="round" d="M1734.50,198.00 C1733.08,196.33 1728.92,190.83 1726.00,188.00 C1723.08,185.17 1719.10,183.13 1717.00,181.00 C1714.90,178.87 1714.57,178.70 1713.40,175.20 C1712.23,171.70 1710.67,165.77 1710.00,160.00 C1709.33,154.23 1709.50,143.83 1709.40,140.60"/>
<path fill="none" stroke="#7191cd" stroke-width="3.6" stroke-linecap="round" stroke-linejoin="round" d="M1740.00,224.10 C1742.83,221.25 1751.23,212.43 1757.00,207.00 C1762.77,201.57 1769.93,196.83 1774.60,191.50 C1779.27,186.17 1781.93,180.08 1785.00,175.00 C1788.07,169.92 1790.00,165.17 1793.00,161.00 C1796.00,156.83 1799.27,153.23 1803.00,150.00 C1806.73,146.77 1813.33,143.00 1815.40,141.60"/>
<path fill="none" stroke="#7191cd" stroke-width="3.2" stroke-linecap="round" stroke-linejoin="round" d="M1774.60,191.50 C1777.00,190.50 1783.90,187.20 1789.00,185.50 C1794.10,183.80 1799.70,183.22 1805.20,181.30 C1810.70,179.38 1816.23,176.72 1822.00,174.00 C1827.77,171.28 1836.83,166.50 1839.80,165.00"/>
<path fill="none" stroke="#7191cd" stroke-width="3.6" stroke-linecap="round" stroke-linejoin="round" d="M1721.60,260.80 C1723.33,259.67 1728.27,256.03 1732.00,254.00 C1735.73,251.97 1738.60,250.85 1744.00,248.60 C1749.40,246.35 1757.73,243.60 1764.40,240.50 C1771.07,237.40 1777.55,233.40 1784.00,230.00 C1790.45,226.60 1797.77,223.43 1803.10,220.10 C1808.43,216.77 1811.58,213.40 1816.00,210.00 C1820.42,206.60 1825.10,202.87 1829.60,199.70 C1834.10,196.53 1838.58,193.55 1843.00,191.00 C1847.42,188.45 1853.92,185.50 1856.10,184.40"/>
<path fill="none" stroke="#7191cd" stroke-width="3.2" stroke-linecap="round" stroke-linejoin="round" d="M1803.10,220.10 C1805.08,219.75 1810.92,218.35 1815.00,218.00 C1819.08,217.65 1823.43,217.83 1827.60,218.00 C1831.77,218.17 1835.92,219.00 1840.00,219.00 C1844.08,219.00 1848.77,218.83 1852.10,218.00 C1855.43,217.17 1857.97,215.35 1860.00,214.00 C1862.03,212.65 1863.58,210.58 1864.30,209.90"/>
<path fill="none" stroke="#7191cd" stroke-width="3.4" stroke-linecap="round" stroke-linejoin="round" d="M1764.40,240.50 C1766.67,240.58 1773.25,240.67 1778.00,241.00 C1782.75,241.33 1787.90,241.83 1792.90,242.50 C1797.90,243.17 1802.55,243.98 1808.00,245.00 C1813.45,246.02 1819.43,248.10 1825.60,248.60 C1831.77,249.10 1838.38,248.52 1845.00,248.00 C1851.62,247.48 1861.92,245.92 1865.30,245.50"/>
<path fill="none" stroke="#7191cd" stroke-width="3.2" stroke-linecap="round" stroke-linejoin="round" d="M1792.90,242.50 C1793.75,244.08 1795.95,248.95 1798.00,252.00 C1800.05,255.05 1802.37,258.30 1805.20,260.80 C1808.03,263.30 1811.60,265.30 1815.00,267.00 C1818.40,268.70 1821.77,270.25 1825.60,271.00 C1829.43,271.75 1833.77,271.67 1838.00,271.50 C1842.23,271.33 1848.83,270.25 1851.00,270.00"/>
<path fill="none" stroke="#b6ceef" stroke-width="3.0" stroke-linecap="round" stroke-linejoin="round" d="M1709.40,289.40 C1708.38,286.68 1705.87,278.83 1703.30,273.10 C1700.73,267.37 1697.07,260.78 1694.00,255.00 C1690.93,249.22 1687.07,242.90 1684.90,238.40 C1682.73,233.90 1681.68,231.40 1681.00,228.00 C1680.32,224.60 1680.83,219.67 1680.80,218.00"/>
<path fill="none" stroke="#b6ceef" stroke-width="1.8" stroke-linecap="round" stroke-linejoin="round" d="M1680.80,218.00 C1681.83,216.00 1684.97,209.73 1687.00,206.00 C1689.03,202.27 1691.32,200.38 1693.00,195.60 C1694.68,190.82 1697.27,182.90 1697.10,177.30 C1696.93,171.70 1693.93,166.88 1692.00,162.00 C1690.07,157.12 1686.75,153.00 1685.50,148.00 C1684.25,143.00 1684.25,136.63 1684.50,132.00 C1684.75,127.37 1686.58,122.17 1687.00,120.20"/>
<path fill="none" stroke="#b6ceef" stroke-width="1.8" stroke-linecap="round" stroke-linejoin="round" d="M1680.80,218.00 C1679.17,216.33 1674.38,211.05 1671.00,208.00 C1667.62,204.95 1664.00,202.53 1660.50,199.70 C1657.00,196.87 1653.40,194.40 1650.00,191.00 C1646.60,187.60 1642.77,183.63 1640.10,179.30 C1637.43,174.97 1635.37,169.75 1634.00,165.00 C1632.63,160.25 1632.40,155.80 1631.90,150.80 C1631.40,145.80 1631.68,139.08 1631.00,135.00 C1630.32,130.92 1628.33,127.75 1627.80,126.30"/>
<path fill="none" stroke="#b6ceef" stroke-width="2.4" stroke-linecap="round" stroke-linejoin="round" d="M1684.90,238.40 C1682.08,237.67 1673.43,235.35 1668.00,234.00 C1662.57,232.65 1657.30,231.43 1652.30,230.30 C1647.30,229.17 1640.38,227.72 1638.00,227.20"/>
<path fill="none" stroke="#b6ceef" stroke-width="1.8" stroke-linecap="round" stroke-linejoin="round" d="M1638.00,227.20 C1636.17,225.17 1630.40,218.90 1627.00,215.00 C1623.60,211.10 1620.18,207.72 1617.60,203.80 C1615.02,199.88 1612.93,196.30 1611.50,191.50 C1610.07,186.70 1609.67,180.77 1609.00,175.00 C1608.33,169.23 1609.00,161.90 1607.50,156.90 C1606.00,151.90 1602.73,148.07 1600.00,145.00 C1597.27,141.93 1592.58,139.58 1591.10,138.50"/>
<path fill="none" stroke="#b6ceef" stroke-width="1.6" stroke-linecap="round" stroke-linejoin="round" d="M1615.00,200.00 C1613.00,199.33 1606.98,197.07 1603.00,196.00 C1599.02,194.93 1595.27,194.60 1591.10,193.60 C1586.93,192.60 1582.07,191.70 1578.00,190.00 C1573.93,188.30 1569.53,185.90 1566.70,183.40 C1563.87,180.90 1562.18,177.72 1561.00,175.00 C1559.82,172.28 1559.83,168.42 1559.60,167.10"/>
<path fill="none" stroke="#b6ceef" stroke-width="1.8" stroke-linecap="round" stroke-linejoin="round" d="M1638.00,227.20 C1635.00,227.17 1626.12,227.00 1620.00,227.00 C1613.88,227.00 1606.97,226.95 1601.30,227.20 C1595.63,227.45 1591.08,228.33 1586.00,228.50 C1580.92,228.67 1575.97,229.45 1570.80,228.20 C1565.63,226.95 1560.27,224.40 1555.00,221.00 C1549.73,217.60 1541.83,210.00 1539.20,207.80"/>
<path fill="none" stroke="#b6ceef" stroke-width="2.0" stroke-linecap="round" stroke-linejoin="round" d="M1705.30,281.20 C1703.08,280.33 1696.75,277.35 1692.00,276.00 C1687.25,274.65 1682.13,274.10 1676.80,273.10 C1671.47,272.10 1665.45,271.03 1660.00,270.00 C1654.55,268.97 1649.43,268.40 1644.10,266.90 C1638.77,265.40 1633.43,263.03 1628.00,261.00 C1622.57,258.97 1616.50,256.70 1611.50,254.70 C1606.50,252.70 1602.07,250.35 1598.00,249.00 C1593.93,247.65 1588.92,247.00 1587.10,246.60"/>
<path fill="none" stroke="#b6ceef" stroke-width="1.6" stroke-linecap="round" stroke-linejoin="round" d="M1644.10,267.50 C1641.42,267.92 1633.43,269.07 1628.00,270.00 C1622.57,270.93 1616.67,272.27 1611.50,273.10 C1606.33,273.93 1601.75,273.98 1597.00,275.00 C1592.25,276.02 1586.67,277.87 1583.00,279.20 C1579.33,280.53 1577.03,281.65 1575.00,283.00 C1572.97,284.35 1571.50,286.58 1570.80,287.30"/>
<path fill="none" stroke="#b6ceef" stroke-width="3.0" stroke-linecap="round" stroke-linejoin="round" d="M1709.40,289.40 C1710.33,287.00 1712.97,279.77 1715.00,275.00 C1717.03,270.23 1718.47,266.55 1721.60,260.80 C1724.73,255.05 1730.73,246.62 1733.80,240.50 C1736.87,234.38 1738.97,226.83 1740.00,224.10"/>
<path fill="none" stroke="#b6ceef" stroke-width="1.8" stroke-linecap="round" stroke-linejoin="round" d="M1740.00,224.10 C1739.50,221.75 1738.03,214.75 1737.00,210.00 C1735.97,205.25 1734.30,199.77 1733.80,195.60 C1733.30,191.43 1733.65,188.40 1734.00,185.00 C1734.35,181.60 1734.07,179.03 1735.90,175.20 C1737.73,171.37 1741.95,166.07 1745.00,162.00 C1748.05,157.93 1752.03,154.47 1754.20,150.80 C1756.37,147.13 1757.32,144.08 1758.00,140.00 C1758.68,135.92 1758.25,128.58 1758.30,126.30"/>
<path fill="none" stroke="#b6ceef" stroke-width="1.6" stroke-linecap="round" stroke-linejoin="round" d="M1734.50,198.00 C1733.08,196.33 1728.92,190.83 1726.00,188.00 C1723.08,185.17 1719.10,183.13 1717.00,181.00 C1714.90,178.87 1714.57,178.70 1713.40,175.20 C1712.23,171.70 1710.67,165.77 1710.00,160.00 C1709.33,154.23 1709.50,143.83 1709.40,140.60"/>
<path fill="none" stroke="#b6ceef" stroke-width="2.0" stroke-linecap="round" stroke-linejoin="round" d="M1740.00,224.10 C1742.83,221.25 1751.23,212.43 1757.00,207.00 C1762.77,201.57 1769.93,196.83 1774.60,191.50 C1779.27,186.17 1781.93,180.08 1785.00,175.00 C1788.07,169.92 1790.00,165.17 1793.00,161.00 C1796.00,156.83 1799.27,153.23 1803.00,150.00 C1806.73,146.77 1813.33,143.00 1815.40,141.60"/>
<path fill="none" stroke="#b6ceef" stroke-width="1.6" stroke-linecap="round" stroke-linejoin="round" d="M1774.60,191.50 C1777.00,190.50 1783.90,187.20 1789.00,185.50 C1794.10,183.80 1799.70,183.22 1805.20,181.30 C1810.70,179.38 1816.23,176.72 1822.00,174.00 C1827.77,171.28 1836.83,166.50 1839.80,165.00"/>
<path fill="none" stroke="#b6ceef" stroke-width="2.0" stroke-linecap="round" stroke-linejoin="round" d="M1721.60,260.80 C1723.33,259.67 1728.27,256.03 1732.00,254.00 C1735.73,251.97 1738.60,250.85 1744.00,248.60 C1749.40,246.35 1757.73,243.60 1764.40,240.50 C1771.07,237.40 1777.55,233.40 1784.00,230.00 C1790.45,226.60 1797.77,223.43 1803.10,220.10 C1808.43,216.77 1811.58,213.40 1816.00,210.00 C1820.42,206.60 1825.10,202.87 1829.60,199.70 C1834.10,196.53 1838.58,193.55 1843.00,191.00 C1847.42,188.45 1853.92,185.50 1856.10,184.40"/>
<path fill="none" stroke="#b6ceef" stroke-width="1.6" stroke-linecap="round" stroke-linejoin="round" d="M1803.10,220.10 C1805.08,219.75 1810.92,218.35 1815.00,218.00 C1819.08,217.65 1823.43,217.83 1827.60,218.00 C1831.77,218.17 1835.92,219.00 1840.00,219.00 C1844.08,219.00 1848.77,218.83 1852.10,218.00 C1855.43,217.17 1857.97,215.35 1860.00,214.00 C1862.03,212.65 1863.58,210.58 1864.30,209.90"/>
<path fill="none" stroke="#b6ceef" stroke-width="1.8" stroke-linecap="round" stroke-linejoin="round" d="M1764.40,240.50 C1766.67,240.58 1773.25,240.67 1778.00,241.00 C1782.75,241.33 1787.90,241.83 1792.90,242.50 C1797.90,243.17 1802.55,243.98 1808.00,245.00 C1813.45,246.02 1819.43,248.10 1825.60,248.60 C1831.77,249.10 1838.38,248.52 1845.00,248.00 C1851.62,247.48 1861.92,245.92 1865.30,245.50"/>
<path fill="none" stroke="#b6ceef" stroke-width="1.6" stroke-linecap="round" stroke-linejoin="round" d="M1792.90,242.50 C1793.75,244.08 1795.95,248.95 1798.00,252.00 C1800.05,255.05 1802.37,258.30 1805.20,260.80 C1808.03,263.30 1811.60,265.30 1815.00,267.00 C1818.40,268.70 1821.77,270.25 1825.60,271.00 C1829.43,271.75 1833.77,271.67 1838.00,271.50 C1842.23,271.33 1848.83,270.25 1851.00,270.00"/>
<ellipse cx="1699.2" cy="453.6" rx="12.5" ry="10.8" fill="#8eafe0"/>
<ellipse cx="1701.7" cy="454.4" rx="5.8" ry="4.6" fill="#5b7cc2" stroke="#3b4a95" stroke-width="1"/>
<g font-family="Liberation Sans, sans-serif" font-size="41.5" fill="#000">
<text x="53.99" y="76.00" textLength="203.02" lengthAdjust="spacingAndGlyphs">qNSCs/qRGCs</text>
<text x="476.99" y="76.00" textLength="202.02" lengthAdjust="spacingAndGlyphs">aNSCs/aRGCs</text>
<text x="777.92" y="76.00" textLength="78.12" lengthAdjust="spacingAndGlyphs">NPCs</text>
<text x="1009.47" y="76.00" textLength="177.55" lengthAdjust="spacingAndGlyphs">Нейробласт</text>
<text x="1263.94" y="76.00" textLength="270.10" lengthAdjust="spacingAndGlyphs">Незрелый нейрон</text>
<text x="1624.99" y="76.00" textLength="234.04" lengthAdjust="spacingAndGlyphs">Зрелый нейрон</text>
<text x="120.47" y="547.00" textLength="449.04" lengthAdjust="spacingAndGlyphs">Пролиферация/поддержание</text>
<text x="124.99" y="592.60" textLength="438.51" lengthAdjust="spacingAndGlyphs">ниши прогениторных клеток</text>
<text x="738.50" y="517.50" textLength="287.00" lengthAdjust="spacingAndGlyphs">Дифференцировка</text>
<text x="793.92" y="564.00" textLength="179.12" lengthAdjust="spacingAndGlyphs">Выживание</text>
<text x="808.92" y="610.00" textLength="150.15" lengthAdjust="spacingAndGlyphs">Миграция</text>
<text x="1309.00" y="547.00" textLength="512.51" lengthAdjust="spacingAndGlyphs">Терминальная дифференцировка</text>
<text x="1463.48" y="592.50" textLength="206.03" lengthAdjust="spacingAndGlyphs">синаптогенез</text>
<text x="111.42" y="755.00" textLength="80.13" lengthAdjust="spacingAndGlyphs">GFAP</text>
<text x="104.32" y="797.00" textLength="94.30" lengthAdjust="spacingAndGlyphs">Nestin</text>
<text x="114.41" y="839.00" textLength="72.14" lengthAdjust="spacingAndGlyphs">Sox2</text>
<text x="419.87" y="755.00" textLength="94.24" lengthAdjust="spacingAndGlyphs">Nestin</text>
<text x="429.40" y="797.00" textLength="72.67" lengthAdjust="spacingAndGlyphs">Sox2</text>
<text x="365.00" y="839.00" textLength="200.01" lengthAdjust="spacingAndGlyphs">ASCL1/Mash1</text>
<text x="743.82" y="755.00" textLength="96.30" lengthAdjust="spacingAndGlyphs">Nestin</text>
<text x="755.41" y="797.00" textLength="72.15" lengthAdjust="spacingAndGlyphs">Sox2</text>
<text x="760.28" y="839.00" textLength="64.37" lengthAdjust="spacingAndGlyphs">Ki67</text>
<text x="751.94" y="880.00" textLength="81.06" lengthAdjust="spacingAndGlyphs">PCNA</text>
<text x="747.41" y="922.00" textLength="89.64" lengthAdjust="spacingAndGlyphs">MCM2</text>
<text x="756.35" y="964.00" textLength="71.23" lengthAdjust="spacingAndGlyphs">Pax6</text>
<text x="763.39" y="1005.00" textLength="58.17" lengthAdjust="spacingAndGlyphs">DCX</text>
<text x="1117.91" y="755.00" textLength="58.66" lengthAdjust="spacingAndGlyphs">DCX</text>
<text x="1060.93" y="797.00" textLength="170.64" lengthAdjust="spacingAndGlyphs">PSA–NCAM</text>
<text x="1081.92" y="839.00" textLength="124.62" lengthAdjust="spacingAndGlyphs">NeuroD1</text>
<text x="1434.39" y="755.00" textLength="59.18" lengthAdjust="spacingAndGlyphs">DCX</text>
<text x="1378.43" y="797.00" textLength="170.64" lengthAdjust="spacingAndGlyphs">PSA–NCAM</text>
<text x="1415.42" y="839.00" textLength="96.62" lengthAdjust="spacingAndGlyphs">CALB2</text>
<text x="1414.92" y="880.00" textLength="93.14" lengthAdjust="spacingAndGlyphs">PROX1</text>
<text x="1731.92" y="755.00" textLength="92.12" lengthAdjust="spacingAndGlyphs">PROX1</text>
<text x="1731.42" y="797.00" textLength="96.62" lengthAdjust="spacingAndGlyphs">CALB2</text>
<text x="1739.38" y="839.00" textLength="80.76" lengthAdjust="spacingAndGlyphs">NeuN</text>
</g></svg></body></html>
